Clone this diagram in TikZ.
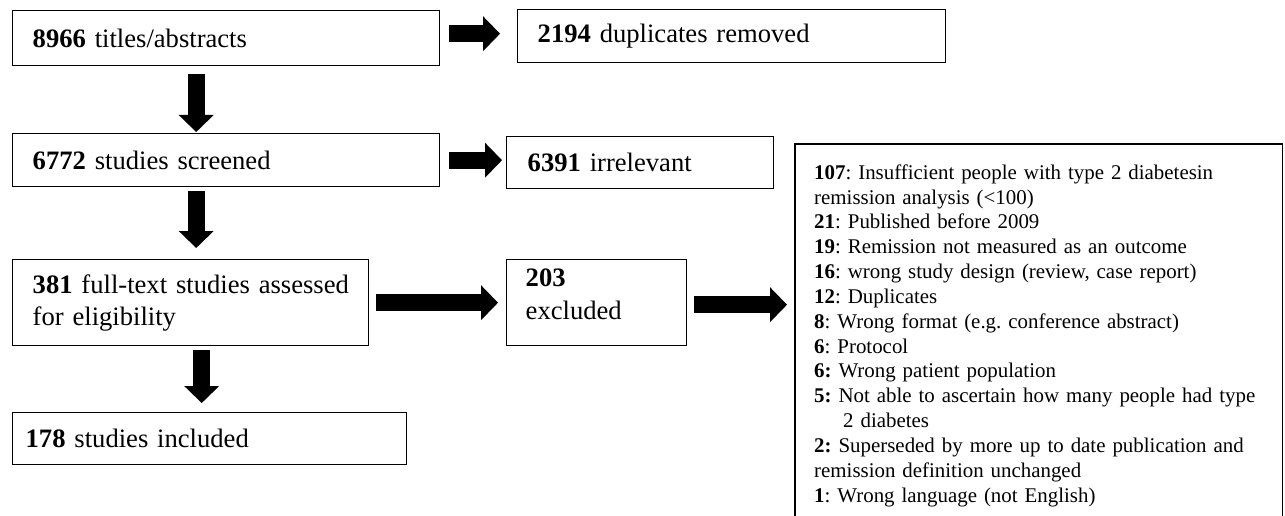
\documentclass[tikz,border=0pt]{standalone}
\usepackage{fontspec}
\setmainfont{Liberation Serif}
\frenchspacing
\usetikzlibrary{arrows.meta,calc}
\tikzset{
  box/.style={draw, line width=1.4pt, anchor=north west, inner ysep=0pt, align=left,
    font=\frenchspacing\fontsize{26.6}{32}\selectfont},
  listtext/.style={anchor=north west, inner ysep=0pt, inner xsep=19pt, align=left,
    text width=449pt, font=\frenchspacing\fontsize{20.9}{24.85}\selectfont},
  barrow/.style={line width=17pt, -{Triangle[length=17pt,width=35pt,line width=0pt]}},
  frame/.style={line width=1.4pt}
}
\begin{document}
\begin{tikzpicture}[x=1pt,y=-1pt]
\useasboundingbox (0,0) rectangle (1285,516);
\node[box, inner xsep=20pt, text width=387pt, minimum height=55pt] (n1) at (12,10) {\mbox{\textbf{8966} titles/abstracts}};
\node[box, inner xsep=20pt, text width=388pt, minimum height=53pt] (n2) at (517,9) {\mbox{\textbf{2194} duplicates removed}};
\node[box, inner xsep=20pt, text width=387pt, minimum height=53pt] (n3) at (12,133) {\mbox{\textbf{6772} studies screened}};
\node[box, inner xsep=21pt, text width=225pt, minimum height=52pt] (n4) at (506,136) {\mbox{\textbf{6391} irrelevant}};
\node[box, inner xsep=20pt, text width=316pt, minimum height=86pt] (n5) at (12,259) {\mbox{\textbf{381} full-text studies assessed}\\for eligibility};
\node[box, inner xsep=19pt, text width=142pt, minimum height=86pt] (n6) at (506,259) {\textbf{203}\\[1pt]excluded\\[-14pt]\mbox{}};
\node[box, inner xsep=13pt, text width=368pt, minimum height=52pt] (n7) at (12,412) {\mbox{\textbf{178} studies included}};
\node[listtext] (lst) at (795,144) {\rule{0pt}{35pt}\mbox{\textbf{107}: Insufficient people with type 2 diabetesin}\\
remission analysis (<100)\\
\textbf{21}: Published before 2009\\
\mbox{\textbf{19}: Remission not measured as an outcome}\\
\mbox{\textbf{16}: wrong study design (review, case report)}\\
\textbf{12}: Duplicates\\
\mbox{\textbf{8}: Wrong format (e.g. conference abstract)}\\
\textbf{6}: Protocol\\
\textbf{6:} Wrong patient population\\
\mbox{\textbf{5:} Not able to ascertain how many people had type}\\
\hspace*{29pt}2 diabetes\\
\mbox{\textbf{2:} Superseded by more up to date publication and}\\
remission definition unchanged\\
\textbf{1}: Wrong language (not English)};
\coordinate (bot) at (0,517);
\draw[frame] (lst.north west |- bot) -- (lst.north west) -- (lst.north east) -- (lst.north east |- bot);
% right arrows
\coordinate (a1) at ([xshift=9pt,yshift=4.5pt]n1.east);
\draw[barrow, shorten >=17pt] (a1) -- (a1 -| n2.west);
\coordinate (a2) at ([xshift=9pt]n3.east);
\draw[barrow, shorten >=4pt] (a2) -- (a2 -| n4.west);
\coordinate (a3) at ([xshift=7pt]n5.east);
\draw[barrow, shorten >=8pt] (a3) -- (a3 -| n6.west);
\coordinate (a4) at ([xshift=7pt,yshift=-2pt]n6.east);
\draw[barrow, shorten >=8pt] (a4) -- (a4 -| lst.west);
% down arrows
\coordinate (d1) at ([xshift=-30pt,yshift=-8pt]n1.south);
\draw[barrow, shorten >=1pt] (d1) -- (d1 |- n3.north);
\coordinate (d2) at ([xshift=-30pt,yshift=-4pt]n3.south);
\draw[barrow, shorten >=11pt] (d2) -- (d2 |- n5.north);
\coordinate (d3) at ([xshift=11pt,yshift=-4pt]n5.south);
\draw[barrow, shorten >=9pt] (d3) -- (d3 |- n7.north);
\end{tikzpicture}
\end{document}
